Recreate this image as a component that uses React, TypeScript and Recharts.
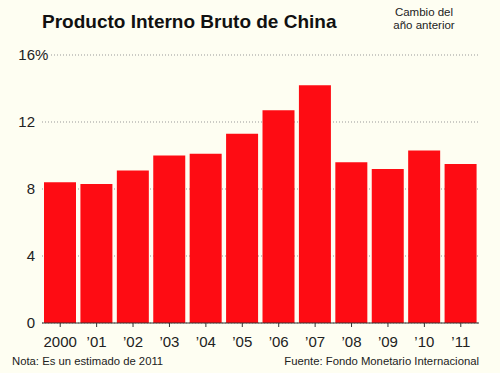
import React from 'react';
import { BarChart, Bar, XAxis, YAxis, CartesianGrid } from 'recharts';

const years = ['2000', '’01', '’02', '’03', '’04', '’05', '’06', '’07', '’08', '’09', '’10', '’11'];
const growth = [8.4, 8.3, 9.1, 10.0, 10.1, 11.3, 12.7, 14.2, 9.6, 9.2, 10.3, 9.5];
const yTicks = [0, 4, 8, 12, 16];

const data = years.map((year, i) => ({ year, value: growth[i] }));

const BG = '#fefef2';
const FONT = '"Liberation Sans", Arial, sans-serif';

const YTick = (props: any) => {
  const { y, payload } = props;
  const top = payload.value === 16;
  return (
    <g>
      {top && <rect x={20} y={y - 8} width={31} height={16} fill={BG} />}
      <text x={35} y={y + 5} textAnchor="end" fontSize={15} fill="#222" fontFamily={FONT}>
        {payload.value}
      </text>
      {top && (
        <text x={35} y={y + 5} textAnchor="start" fontSize={15} fill="#222" fontFamily={FONT}>
          %
        </text>
      )}
    </g>
  );
};

const XTick = (props: any) => {
  const { x, payload } = props;
  return (
    <text x={x} y={347} textAnchor="middle" fontSize={15} fill="#222" fontFamily={FONT}>
      {payload.value}
    </text>
  );
};

export default function App() {
  return (
    <div style={{ position: 'absolute', left: 0, top: 0, width: 500, height: 373, background: BG, fontFamily: FONT }}>
      <div style={{ position: 'absolute', left: 42, top: 11, fontSize: 19, fontWeight: 'bold', color: '#111', whiteSpace: 'nowrap' }}>
        Producto Interno Bruto de China
      </div>
      <div style={{ position: 'absolute', left: 384, top: 6, width: 80, textAlign: 'center', fontSize: 11.5, lineHeight: '13px', color: '#222' }}>
        Cambio del
        <br />
        año anterior
      </div>
      <BarChart
        width={500}
        height={373}
        data={data}
        margin={{ top: 55, right: 21, bottom: 20, left: 0 }}
        barCategoryGap={2}
      >
        <CartesianGrid vertical={false} stroke="#999" strokeDasharray="1 2" />
        <YAxis
          domain={[0, 16]}
          ticks={yTicks}
          width={42}
          axisLine={false}
          tickLine={false}
          tick={<YTick />}
          interval={0}
        />
        <XAxis
          dataKey="year"
          height={30}
          axisLine={{ stroke: '#333', strokeWidth: 1 }}
          tickLine={{ stroke: '#333' }}
          tickSize={4}
          tick={<XTick />}
          interval={0}
        />
        <Bar dataKey="value" fill="#fe0c13" isAnimationActive={false} />
      </BarChart>
      <div style={{ position: 'absolute', left: 12, top: 355, fontSize: 11.3, color: '#222', whiteSpace: 'nowrap' }}>
        Nota: Es un estimado de 2011
      </div>
      <div style={{ position: 'absolute', right: 21, top: 355, fontSize: 11.3, color: '#222', whiteSpace: 'nowrap' }}>
        Fuente: Fondo Monetario Internacional
      </div>
    </div>
  );
}
